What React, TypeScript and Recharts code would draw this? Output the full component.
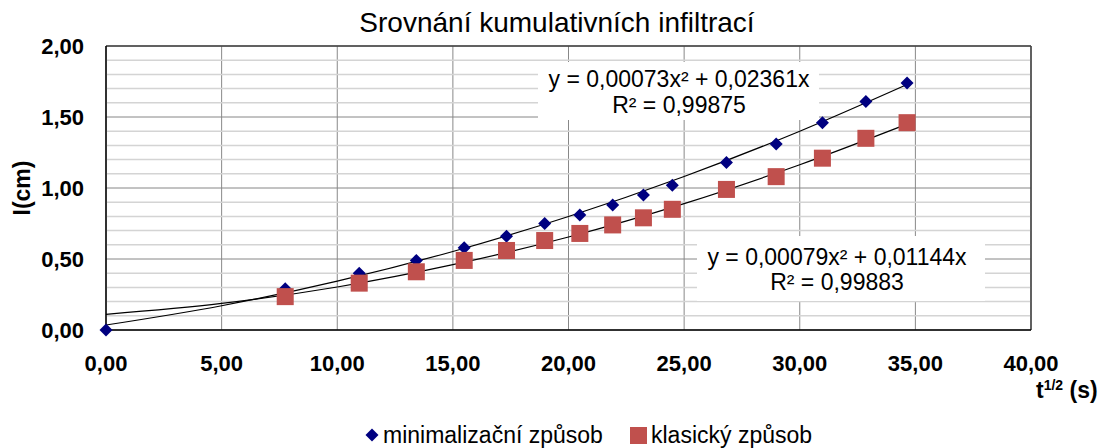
import React from 'react';
import {
  ComposedChart,
  Scatter,
  Line,
  XAxis,
  YAxis,
  CartesianGrid,
  ReferenceLine,
} from 'recharts';

// measured points, x = t^(1/2)
const minX = [0, 7.75, 10.95, 13.42, 15.49, 17.32, 18.97, 20.49, 21.91, 23.24, 24.49, 26.83, 28.98, 30.98, 32.86, 34.64];
const minY = [0, 0.29, 0.4, 0.49, 0.58, 0.66, 0.75, 0.81, 0.88, 0.95, 1.02, 1.18, 1.31, 1.46, 1.61, 1.74];

const klasX = [7.75, 10.95, 13.42, 15.49, 17.32, 18.97, 20.49, 21.91, 23.24, 24.49, 26.83, 28.98, 30.98, 32.86, 34.64];
const klasY = [0.235, 0.33, 0.41, 0.49, 0.56, 0.63, 0.68, 0.74, 0.79, 0.85, 0.99, 1.08, 1.21, 1.35, 1.46];

// trend lines
const trendX = [0, 5, 10, 15, 20, 25, 30, 34.64];
const minTrend = [0.035, 0.171, 0.344, 0.553, 0.799, 1.081, 1.4, 1.729];
const klasTrend = [0.11, 0.187, 0.303, 0.46, 0.655, 0.89, 1.164, 1.45];

const xTicks = [0, 5, 10, 15, 20, 25, 30, 35, 40];
const yTicks = [0, 0.5, 1, 1.5, 2];
const yMinor = [0.1, 0.2, 0.3, 0.4, 0.6, 0.7, 0.8, 0.9, 1.1, 1.2, 1.3, 1.4, 1.6, 1.7, 1.8, 1.9];

const title = 'Srovnání kumulativních infiltrací';
const seriesNames = ['minimalizační způsob', 'klasický způsob'];
const eqMin = ['y = 0,00073x² + 0,02361x', 'R² = 0,99875'];
const eqKlas = ['y = 0,00079x² + 0,01144x', 'R² = 0,99883'];

const BLUE = '#000080';
const RED = '#C0504D';
const FONT = 'Arial, "Liberation Sans", sans-serif';

const zip = (xs: number[], ys: number[]) => xs.map((x, i) => ({ x, y: ys[i] }));

const minData = zip(minX, minY);
const klasData = zip(klasX, klasY);
const minTrendData = zip(trendX, minTrend);
const klasTrendData = zip(trendX, klasTrend);

const fmt = (v: number) => v.toFixed(2).replace('.', ',');

const Diamond = (props: any) => {
  const { cx, cy } = props;
  if (cx == null || cy == null) return null;
  const r = 6.5;
  return (
    <polygon
      points={`${cx},${cy - r} ${cx + r},${cy} ${cx},${cy + r} ${cx - r},${cy}`}
      fill={BLUE}
    />
  );
};

const Square = (props: any) => {
  const { cx, cy } = props;
  if (cx == null || cy == null) return null;
  const s = 17;
  return <rect x={cx - s / 2} y={cy - s / 2} width={s} height={s} fill={RED} />;
};

const tickStyle = { fill: '#000', fontSize: 22, fontWeight: 700, fontFamily: FONT };

export default function App() {
  return (
    <div style={{ position: 'absolute', left: 0, top: 0, width: 1113, height: 448, background: '#fff' }}>
      <ComposedChart
        width={1113}
        height={448}
        margin={{ top: 46, right: 82, left: 0, bottom: 78 }}
      >
        <CartesianGrid stroke="#888" horizontal={false} verticalFill={[]} />
        {yMinor.map((v) => (
          <ReferenceLine key={v} y={v} stroke="#d4d4d4" strokeWidth={1.5} />
        ))}
        <CartesianGrid stroke="#868686" vertical={false} />
        <XAxis
          type="number"
          dataKey="x"
          domain={[0, 40]}
          ticks={xTicks}
          tickFormatter={fmt}
          tick={tickStyle}
          tickLine={false}
          tickSize={6}
          tickMargin={19}
          axisLine={{ stroke: '#000', strokeWidth: 1.5 }}
          height={40}
          interval={0}
        />
        <YAxis
          type="number"
          dataKey="y"
          domain={[0, 2]}
          ticks={yTicks}
          tickFormatter={fmt}
          tick={tickStyle}
          tickLine={false}
          tickSize={6}
          tickMargin={16}
          axisLine={{ stroke: '#000', strokeWidth: 1.5 }}
          width={106}
          interval={0}
        />
        <ReferenceLine x={40} stroke="#404040" strokeWidth={1.5} />
        <ReferenceLine y={2} stroke="#404040" strokeWidth={1.5} />
        <Scatter
          name={seriesNames[0]}
          data={minData}
          dataKey="y"
          shape={<Diamond />}
          isAnimationActive={false}
        />
        <Scatter
          name={seriesNames[1]}
          data={klasData}
          dataKey="y"
          shape={<Square />}
          isAnimationActive={false}
        />
        <Line
          data={minTrendData}
          dataKey="y"
          type="monotone"
          stroke="#000"
          strokeWidth={1.2}
          dot={false}
          activeDot={false}
          legendType="none"
          isAnimationActive={false}
        />
        <Line
          data={klasTrendData}
          dataKey="y"
          type="monotone"
          stroke="#000"
          strokeWidth={1.2}
          dot={false}
          activeDot={false}
          legendType="none"
          isAnimationActive={false}
        />
      </ComposedChart>

      <svg
        width={1113}
        height={448}
        style={{ position: 'absolute', left: 0, top: 0, pointerEvents: 'none' }}
        fontFamily={FONT}
      >
        <text x={557} y={32} textAnchor="middle" fontSize={28} fill="#000">
          {title}
        </text>

        <text
          x={0}
          y={0}
          transform="translate(30,188) rotate(-90)"
          textAnchor="middle"
          fontSize={23}
          fontWeight={700}
          fill="#000"
        >
          I(cm)
        </text>

        <text x={1036} y={398} fontSize={23} fontWeight={700} fill="#000">
          t
          <tspan fontSize={14} dy={-8}>1/2</tspan>
          <tspan dy={8}> (s)</tspan>
        </text>

        <rect x={538} y={62} width={281} height={58} fill="#fff" />
        <text x={679} y={87} textAnchor="middle" fontSize={23} fill="#000">
          {eqMin[0]}
        </text>
        <text x={679} y={113} textAnchor="middle" fontSize={23} fill="#000">
          {eqMin[1]}
        </text>

        <rect x={697} y={236} width={288} height={65} fill="#fff" />
        <text x={837} y={265} textAnchor="middle" fontSize={23} fill="#000">
          {eqKlas[0]}
        </text>
        <text x={837} y={290} textAnchor="middle" fontSize={23} fill="#000">
          {eqKlas[1]}
        </text>

        <polygon points="372,428.5 378.5,435 372,441.5 365.5,435" fill={BLUE} />
        <text x={383} y={443} fontSize={23} fill="#000">
          {seriesNames[0]}
        </text>
        <rect x={630} y={427} width={17} height={17} fill={RED} />
        <text x={651} y={443} fontSize={23} fill="#000">
          {seriesNames[1]}
        </text>
      </svg>
    </div>
  );
}
